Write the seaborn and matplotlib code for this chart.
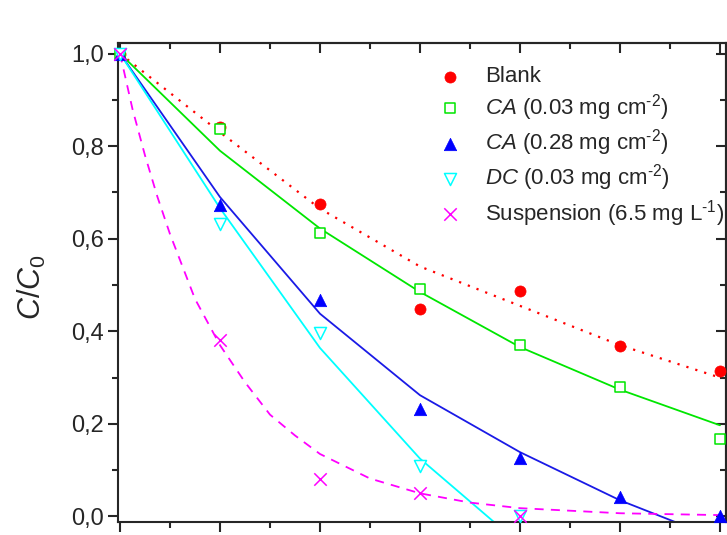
import matplotlib
matplotlib.use("Agg")
import matplotlib.pyplot as plt
import seaborn as sns
from matplotlib.ticker import FixedLocator, FixedFormatter

# irradiation time steps (x axis has no visible labels in the source figure)
time = [0, 1, 2, 3, 4, 5, 6]
short_time = [0, 1, 2, 3, 4]

# measured C/C0 values
blank = [1.0, 0.842, 0.676, 0.448, 0.487, 0.368, 0.314]
ca_low = [1.0, 0.837, 0.612, 0.491, 0.371, 0.280, 0.168]
ca_high = [1.0, 0.672, 0.467, 0.233, 0.126, 0.043, 0.0]
dc_low = [1.0, 0.631, 0.396, 0.109, 0.001]
suspension = [1.0, 0.381, 0.081, 0.050, 0.0]

# fitted curves
blank_fit = [1.0, 0.83, 0.665, 0.54, 0.455, 0.37, 0.30]
ca_low_fit = [1.0, 0.79, 0.622, 0.485, 0.366, 0.274, 0.197]
ca_high_fit = [1.0, 0.69, 0.438, 0.262, 0.139, 0.035, -0.05]
dc_low_fit = [1.0, 0.666, 0.364, 0.125, -0.06]
susp_fit_time = [0, 0.125, 0.25, 0.375, 0.5, 0.75, 1, 1.25, 1.5, 1.75, 2, 2.5, 3, 3.5, 4, 5, 6]
susp_fit = [1.0, 0.88, 0.78, 0.69, 0.61, 0.47, 0.37, 0.29, 0.22, 0.175, 0.135, 0.082, 0.05, 0.03, 0.018, 0.007, 0.003]

labels = [
    "Blank",
    r"$\it{CA}$ (0.03 mg cm$^{\text{-}2}$)",
    r"$\it{CA}$ (0.28 mg cm$^{\text{-}2}$)",
    r"$\it{DC}$ (0.03 mg cm$^{\text{-}2}$)",
    r"Suspension (6.5 mg L$^{\text{-}1}$)",
]

y_ticks = [0.0, 0.2, 0.4, 0.6, 0.8, 1.0]
y_tick_labels = ["0,0", "0,2", "0,4", "0,6", "0,8", "1,0"]
y_minor = [0.1, 0.3, 0.5, 0.7, 0.9]
x_ticks = [0, 1, 2, 3, 4, 5, 6]
x_minor = [0.5, 1.5, 2.5, 3.5, 4.5, 5.5]

sns.set_style("ticks")
plt.rcParams["font.family"] = ["Liberation Sans", "DejaVu Sans"]
plt.rcParams["mathtext.fontset"] = "custom"
plt.rcParams["mathtext.rm"] = "Liberation Sans"
plt.rcParams["mathtext.it"] = "Liberation Sans:italic"
plt.rcParams["mathtext.bf"] = "Liberation Sans:bold"

RED, GREEN, BLUE, CYAN, MAGENTA = "#FF0000", "#00E600", "#0000FF", "#00FFFF", "#FF00FF"

fig = plt.figure(figsize=(7.27, 5.35), dpi=100)
ax = fig.add_axes([0.1623, 0.0243, 0.8363, 0.8953])

# fitted lines
sns.lineplot(x=time, y=blank_fit, ax=ax, color=RED, lw=1.6, linestyle=(0, (1, 3.2)), legend=False, estimator=None, sort=False)
sns.lineplot(x=time, y=ca_low_fit, ax=ax, color=GREEN, lw=1.3, legend=False, estimator=None, sort=False)
sns.lineplot(x=time, y=ca_high_fit, ax=ax, color="#1A1AE6", lw=1.3, legend=False, estimator=None, sort=False)
sns.lineplot(x=short_time, y=dc_low_fit, ax=ax, color=CYAN, lw=1.3, legend=False, estimator=None, sort=False)
sns.lineplot(x=susp_fit_time, y=susp_fit, ax=ax, color=MAGENTA, lw=1.3, linestyle=(0, (5, 4)), legend=False, estimator=None, sort=False)

# measured points
sns.scatterplot(x=time, y=blank, ax=ax, marker="o", s=64, color=RED, edgecolor=RED, linewidth=0.5, label=labels[0], clip_on=False, zorder=5)
sns.scatterplot(x=time, y=ca_low, ax=ax, marker="s", s=50, facecolor="white", edgecolor=GREEN, linewidth=1.1, label=labels[1], clip_on=False, zorder=5)
sns.scatterplot(x=time, y=ca_high, ax=ax, marker="^", s=80, color=BLUE, edgecolor=BLUE, linewidth=0.5, label=labels[2], clip_on=False, zorder=5)
sns.scatterplot(x=short_time, y=dc_low, ax=ax, marker="v", s=75, facecolor="white", edgecolor=CYAN, linewidth=1.1, label=labels[3], clip_on=False, zorder=5)
sns.scatterplot(x=short_time, y=suspension, ax=ax, marker="x", s=80, color=MAGENTA, linewidth=1.1, label=labels[4], clip_on=False, zorder=6)

ax.set_xlim(-0.02, 6.06)
ax.set_ylim(-0.0119, 1.0227)

ax.xaxis.set_major_locator(FixedLocator(x_ticks))
ax.xaxis.set_minor_locator(FixedLocator(x_minor))
ax.yaxis.set_major_locator(FixedLocator(y_ticks))
ax.yaxis.set_major_formatter(FixedFormatter(y_tick_labels))
ax.yaxis.set_minor_locator(FixedLocator(y_minor))

ax.tick_params(which="both", direction="out", width=1.5, labelsize=17, labelbottom=False)
ax.tick_params(which="major", length=7, pad=3)
ax.tick_params(which="minor", length=4.5)
for side in ["left", "bottom", "right", "top"]:
    ax.spines[side].set_visible(True)
    ax.spines[side].set_linewidth(1.5)

# mirrored inward ticks on top and right, Origin-style
top = ax.secondary_xaxis("top")
top.set_xticks(x_ticks)
top.xaxis.set_minor_locator(FixedLocator(x_minor))
top.tick_params(which="both", direction="in", width=1.5, labeltop=False)
top.tick_params(which="major", length=7)
top.tick_params(which="minor", length=4.5)
top.spines["top"].set_linewidth(1.5)

right = ax.secondary_yaxis("right")
right.set_yticks(y_ticks)
right.yaxis.set_minor_locator(FixedLocator(y_minor))
right.tick_params(which="both", direction="in", width=1.5, labelright=False)
right.tick_params(which="major", length=7)
right.tick_params(which="minor", length=4.5)
right.spines["right"].set_linewidth(1.5)

ax.set_ylabel(r"$C/C_0$", fontsize=22)
ax.yaxis.set_label_coords(-0.115, 0.49)

ax.legend(loc="upper left", bbox_to_anchor=(0.498, 0.993), frameon=False, fontsize=16,
          handlelength=0.8, handletextpad=1.2, labelspacing=0.2, borderpad=0.4)

fig.savefig("out.png", dpi=100)
